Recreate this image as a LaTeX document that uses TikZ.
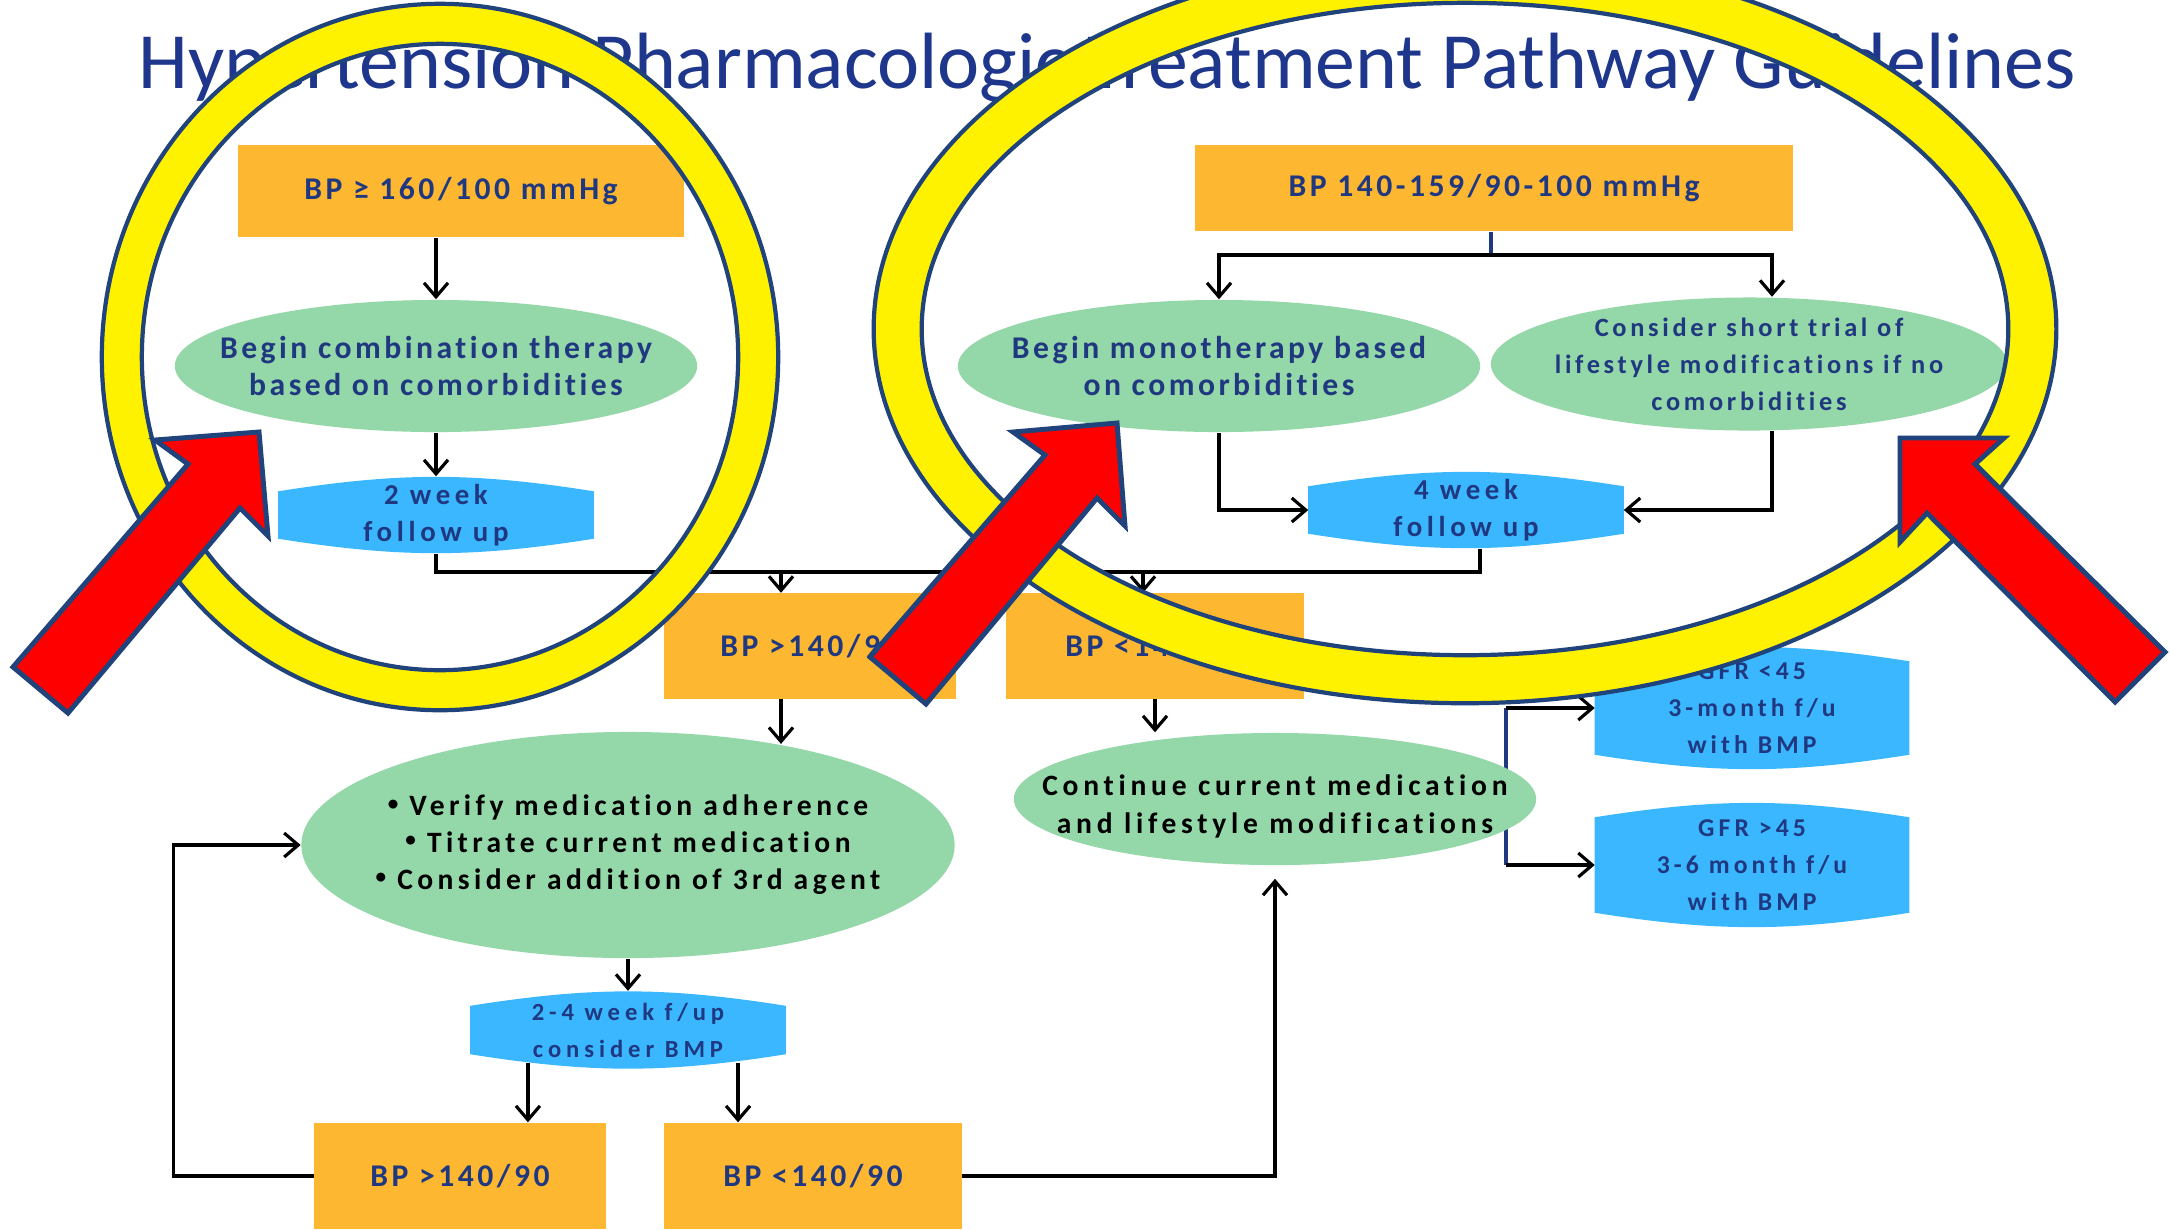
\documentclass[tikz,border=0pt]{standalone}
\usepackage{fontspec}
\setmainfont{Carlito}
\usetikzlibrary{arrows.meta,shapes.geometric,backgrounds}

\definecolor{boxorange}{RGB}{253,183,49}
\definecolor{ovalgreen}{RGB}{148,215,168}
\definecolor{fupblue}{RGB}{58,183,255}
\definecolor{textnavy}{RGB}{31,56,128}
\definecolor{titlenavy}{RGB}{30,55,140}
\definecolor{ringnavy}{RGB}{31,67,122}

% spaced bold text, size and line skip
\newcommand{\spaced}[3]{\bfseries\addfontfeatures{LetterSpace=#1,Ligatures=NoCommon}\fontsize{#2}{#3}\selectfont}
% small bullet
\newcommand{\smallbul}{\raisebox{0.2em}{\fontsize{6}{6}\selectfont •}\ }
% blue follow-up shape, drawn behind the named node
\newcommand{\fupshape}[1]{%
  \begin{pgfonlayer}{background}
    \fill[fupblue] ([yshift=-0.15cm]#1.north west) to[bend left=9] ([yshift=-0.15cm]#1.north east)
      -- ([yshift=0.15cm]#1.south east) to[bend left=9] ([yshift=0.15cm]#1.south west) -- cycle;
  \end{pgfonlayer}}

\begin{document}
\begin{tikzpicture}[x=0.01cm,y=-0.01cm,
  >={Straight Barb[length=1.4mm,width=2.4mm]},
  link/.style={black,line width=0.9pt},
  navyline/.style={textnavy,line width=0.9pt},
  obox/.style={rectangle,fill=boxorange,text=textnavy,align=center,inner sep=0pt,
    font=\spaced{11}{9}{10.8}},
  oval/.style={ellipse,fill=ovalgreen,text=textnavy,align=center,inner sep=-0.8cm,
    font=\spaced{11}{9}{10.8}},
  fup/.style={rectangle,text=textnavy,align=center,inner sep=0pt,
    font=\spaced{16}{8.2}{10.5}},
  ring/.style={fill=yellow,draw=ringnavy,line width=1.2pt,even odd rule},
  bigarrow/.style={fill=red,draw=ringnavy,line width=1.4pt,line join=miter}]
\useasboundingbox (0,0) rectangle (2170,1229);
\begin{pgfonlayer}{background}
  \fill[white] (0,0) rectangle (2170,1229);
\end{pgfonlayer}

\node[anchor=base,text=titlenavy,font=\fontsize{22.7}{27}\selectfont] (title) at (1107,88)
  {Hypertension Pharmacologic Treatment Pathway Guidelines};

% left branch
\node[obox,minimum width=4.46cm,minimum height=0.92cm] (bp160) at (461,191) {BP ≥ 160/100 mmHg};
\node[oval,minimum width=5.22cm,minimum height=1.32cm] (comb) at (436,366)
  {Begin combination therapy\\based on comorbidities};
\node[fup,minimum width=3.14cm,minimum height=0.76cm] (wk2) at (436,515) {2 week\\follow up};
\fupshape{wk2}

% right branch
\node[obox,minimum width=5.98cm,minimum height=0.86cm] (bpmid) at (1494,188) {BP 140-159/90-100 mmHg};
\node[oval,minimum width=5.22cm,minimum height=1.32cm] (mono) at (1219,366)
  {Begin monotherapy based\\on comorbidities};
\node[oval,minimum width=5.16cm,minimum height=1.33cm,font=\spaced{14}{7.5}{10.5}] (cons) at (1749,364)
  {Consider short trial of\\lifestyle modifications if no\\comorbidities};
\node[fup,minimum width=3.14cm,minimum height=0.76cm] (wk4) at (1466,510) {4 week\\follow up};
\fupshape{wk4}

% after follow up
\node[obox,minimum width=2.91cm,minimum height=1.05cm] (bphi) at (810,646) {BP >140/90};
\node[obox,minimum width=2.97cm,minimum height=1.05cm] (bplo) at (1155,646) {BP <140/90};
\node[oval,minimum width=6.53cm,minimum height=2.26cm,text=black,font=\spaced{15}{8.4}{10.5}] (verify) at (628,845)
  {\smallbul Verify medication adherence\\\smallbul Titrate current medication\\\smallbul Consider addition of 3rd agent};
\node[oval,minimum width=5.22cm,minimum height=1.32cm,text=black,font=\spaced{16}{8.4}{10.8}] (cont) at (1275,799)
  {\rule{0pt}{0.36cm}Continue current medication\\and lifestyle modifications};
\node[fup,minimum width=3.13cm,minimum height=1.22cm,font=\spaced{16}{7.3}{10.5}] (gfr1) at (1752,708)
  {GFR <45\\3-month f/u\\with BMP};
\fupshape{gfr1}
\node[fup,minimum width=3.13cm,minimum height=1.24cm,font=\spaced{16}{7.3}{10.5}] (gfr2) at (1752,865)
  {GFR >45\\3-6 month f/u\\with BMP};
\fupshape{gfr2}
\node[fup,minimum width=3.14cm,minimum height=0.77cm,font=\spaced{20}{7}{10.5}] (wk24) at (628,1030)
  {2-4 week f/up\\consider BMP};
\fupshape{wk24}
\node[obox,minimum width=2.91cm,minimum height=1.06cm] (bphb) at (460,1176) {BP >140/90};
\node[obox,minimum width=2.97cm,minimum height=1.06cm] (bplb) at (813,1176) {BP <140/90};

% connectors
\coordinate (bus) at (1000,572);
\coordinate (drop1) at (781,572);
\coordinate (drop2) at (1143,572);
\coordinate (split) at (1491,255);
\coordinate (gsplit) at (1506,787);

\draw[link,->] (bp160.south -| comb.north) -- (comb.north);
\draw[link,->] (comb.south) -- (wk2.north);
\draw[link] (wk2.south) |- (bus) -| ([xshift=0.14cm]wk4.south);
\draw[link,->] (drop1) -- (drop1 |- bphi.north);
\draw[link,->] (drop2) -- (drop2 |- bplo.north);
\draw[navyline] (bpmid.south -| split) -- (split);
\draw[link,->] (split) -| (mono.north);
\draw[link,->] (split) -| ([xshift=0.23cm]cons.north);
\draw[link,->] (mono.south) |- (wk4.west);
\draw[link,->] ([xshift=0.23cm]cons.south) |- (wk4.east);
\draw[link,->] (drop1 |- bphi.south) -- (drop1 |- verify.34);
\draw[link,->] (bplo.south) -- (bplo.south |- cont.north);
\draw[link,->] (verify.south) -- (wk24.north);
\draw[link,->] ([xshift=-1cm,yshift=0.06cm]wk24.south) -- ([xshift=-1cm]wk24.south |- bphb.north);
\draw[link,->] ([xshift=1.1cm,yshift=0.06cm]wk24.south) -- ([xshift=1.1cm]wk24.south |- bplb.north);
\draw[link,->] (bphb.west) -- ++(-140,0) |- (verify.west);
\draw[link,->,shorten >=0.13cm] (bplb.east) -| (cont.south);
\begin{pgfonlayer}{background}
  \draw[navyline] (gsplit |- gfr1.west) -- (gsplit |- gfr2.west);
\end{pgfonlayer}
\draw[link,->] (gsplit |- gfr1.west) -- (gfr1.west);
\draw[link,->] (gsplit |- gfr2.west) -- (gfr2.west);

% highlight rings
\path[ring] (440,357) ellipse [x radius=3.38cm,y radius=3.53cm]
  (440,357) ellipse [x radius=2.98cm,y radius=3.13cm];
\path[ring] (1465,329) ellipse [x radius=5.91cm,y radius=3.74cm]
  (1465,329) ellipse [x radius=5.43cm,y radius=3.26cm];

% red pointers
\draw[bigarrow] (13,667) -- (188,464) -- (155,440) -- (259,432) -- (268,536) -- (240,508) -- (68,713) -- cycle;
\draw[bigarrow] (870,657) -- (1045,455) -- (1013,432) -- (1117,423) -- (1125,526) -- (1097,498) -- (926,704) -- cycle;
\draw[bigarrow] (2165,652) -- (1975,464) -- (2004,438) -- (1900,438) -- (1900,542) -- (1927,513) -- (2115,702) -- cycle;
\end{tikzpicture}
\end{document}
